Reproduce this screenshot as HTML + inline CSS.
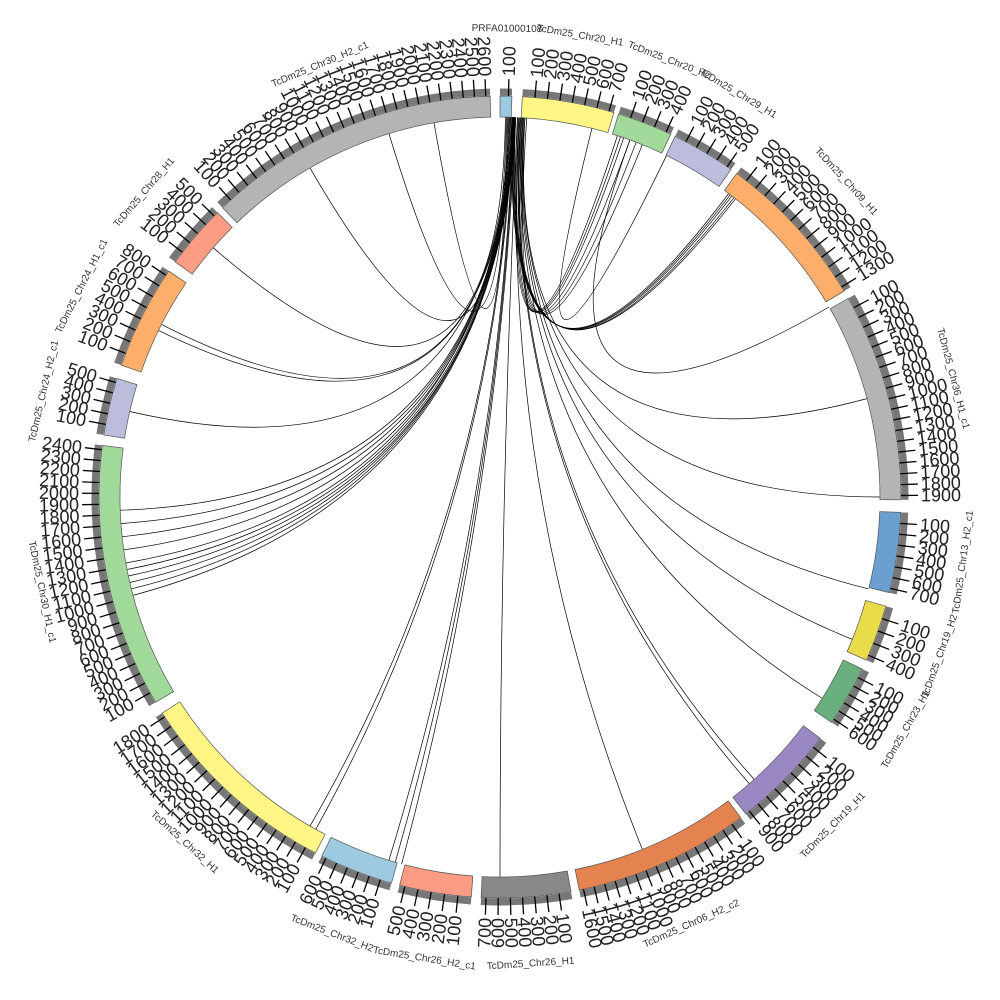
<!DOCTYPE html>
<html><head><meta charset="utf-8"><style>
html,body{margin:0;padding:0;background:#fff;}
svg{display:block;}
text{font-family:"Liberation Sans",sans-serif;}
</style></head><body>
<svg id="s" width="1000" height="1000" viewBox="0 0 1000 1000" xmlns="http://www.w3.org/2000/svg"></svg>
<script>
const S=document.getElementById('s');
const CX=500,CY=497,RI=380,RO=401;
const NS='http://www.w3.org/2000/svg';
function el(t,a,txt){const e=document.createElementNS(NS,t);for(const k in a)e.setAttribute(k,a[k]);if(txt!==undefined)e.textContent=txt;S.appendChild(e);return e;}
function pt(r,a){const t=a*Math.PI/180;return [CX+r*Math.sin(t),CY-r*Math.cos(t)];}
const segs=[
["PRFA01000108",0,1.7,"#9ecae1",1],
["TcDm25_Chr20_H1",3.2,16.5,"#fff685",7],
["TcDm25_Chr20_H2",17.2,25.2,"#a1d99b",4],
["TcDm25_Chr29_H1",25.9,35.2,"#bcbddc",5],
["TcDm25_Chr09_H1",36.2,59.1,"#fdae6b",13],
["TcDm25_Chr36_H1_c1",60.3,90.4,"#b4b4b4",19],
["TcDm25_Chr13_H2_c1",92.2,103.8,"#6b9fcf",7],
["TcDm25_Chr19_H2",105.8,114,"#e8dc4a",4],
["TcDm25_Chr23_H1",115.4,124.2,"#6ab07e",6],
["TcDm25_Chr19_H1",127,142.2,"#9a88c4",9],
["TcDm25_Chr06_H2_c2",143.1,168.6,"#e4834f",16],
["TcDm25_Chr26_H1",169.8,182.7,"#888888",7],
["TcDm25_Chr26_H2_c1",184.1,194.5,"#fc9c84",5],
["TcDm25_Chr32_H2",195.7,206.4,"#9ecae1",6],
["TcDm25_Chr32_H1",207.4,237.4,"#fff685",18],
["TcDm25_Chr30_H1_c1",239.2,277.4,"#a1d99b",24],
["TcDm25_Chr24_H2_c1",278.9,287.2,"#bcbddc",5],
["TcDm25_Chr24_H1_c1",289.2,304.3,"#fdae6b",8],
["TcDm25_Chr28_H1",305.9,315.2,"#fc9c84",5],
["TcDm25_Chr30_H2_c1",316.2,358.6,"#b4b4b4",26]
];
const chords=[[2,330],[2.5,343],[3,350],[1.5,311],[4,297],[4.5,296],[3.5,283],
[5,268],[5.2,266],[5.5,264],[5.8,262],[6,259],[6.3,257],[6.5,256],[6.8,255],[7,258],[4,260],
[5,210],[5.5,209],[6,197],[6.5,196],[7,195],[8,180],[8.5,158],[9,139],[9.5,138],[10,122],[10.5,112],[11,104],[11.5,90],[12,75],
[5,37],[5.5,37.3],[6,37.6],[6.5,38],[7,38.3],[18,8],[18.5,9],[19,10],[20,11],[21,12],[22,13],[26,14],[20,60]];
function squeeze(a){return a<=13?0.4+a*0.28:a;}
for(const [a0,b0] of chords){const a=squeeze(a0),b=squeeze(b0);const p=pt(RI,a),q=pt(RI,b);
el('path',{d:`M${p[0]},${p[1]} Q${CX},${CY} ${q[0]},${q[1]}`,fill:'none',stroke:'#000','stroke-width':0.7});}
for(const [name,a0,a1,col,n] of segs){
 const p1=pt(RO,a0),p2=pt(RO,a1),p3=pt(RI,a1),p4=pt(RI,a0);
 const lg=(a1-a0)>180?1:0;
 el('path',{d:`M${p1[0]},${p1[1]} A${RO},${RO} 0 ${lg} 1 ${p2[0]},${p2[1]} L${p3[0]},${p3[1]} A${RI},${RI} 0 ${lg} 0 ${p4[0]},${p4[1]}Z`,fill:col,stroke:'#555','stroke-width':0.7});
 const b1=pt(RO+4,a0),b2=pt(RO+4,a1);
 el('path',{d:`M${b1[0]},${b1[1]} A${RO+4},${RO+4} 0 0 1 ${b2[0]},${b2[1]}`,fill:'none',stroke:'#777','stroke-width':7});
 const step=(a1-a0)/(n+0.4);
 for(let i=1;i<=n;i++){const a=a0+step*i;
  const t1=pt(RO,a),t2=pt(RO+17,a);
  el('line',{x1:t1[0],y1:t1[1],x2:t2[0],y2:t2[1],stroke:'#000','stroke-width':1.3});
  const tp=pt(RO+20,a);let rot,anc;
  if(a<180){rot=a-90;anc='start';}else{rot=a-270;anc='end';}
  el('text',{x:tp[0],y:tp[1],transform:`rotate(${rot} ${tp[0]} ${tp[1]})`,'text-anchor':anc,'dominant-baseline':'central','font-size':18,fill:'#222'},String(i*100));
 }
 const m=(a0+a1)/2;const np=pt(468,m);
 let r=(m>90&&m<270)?m-180:m;
 el('text',{x:np[0],y:np[1],transform:`rotate(${r} ${np[0]} ${np[1]})`,'text-anchor':'middle','dominant-baseline':'central','font-size':10,fill:'#333'},name);
}
</script>
</body></html>
